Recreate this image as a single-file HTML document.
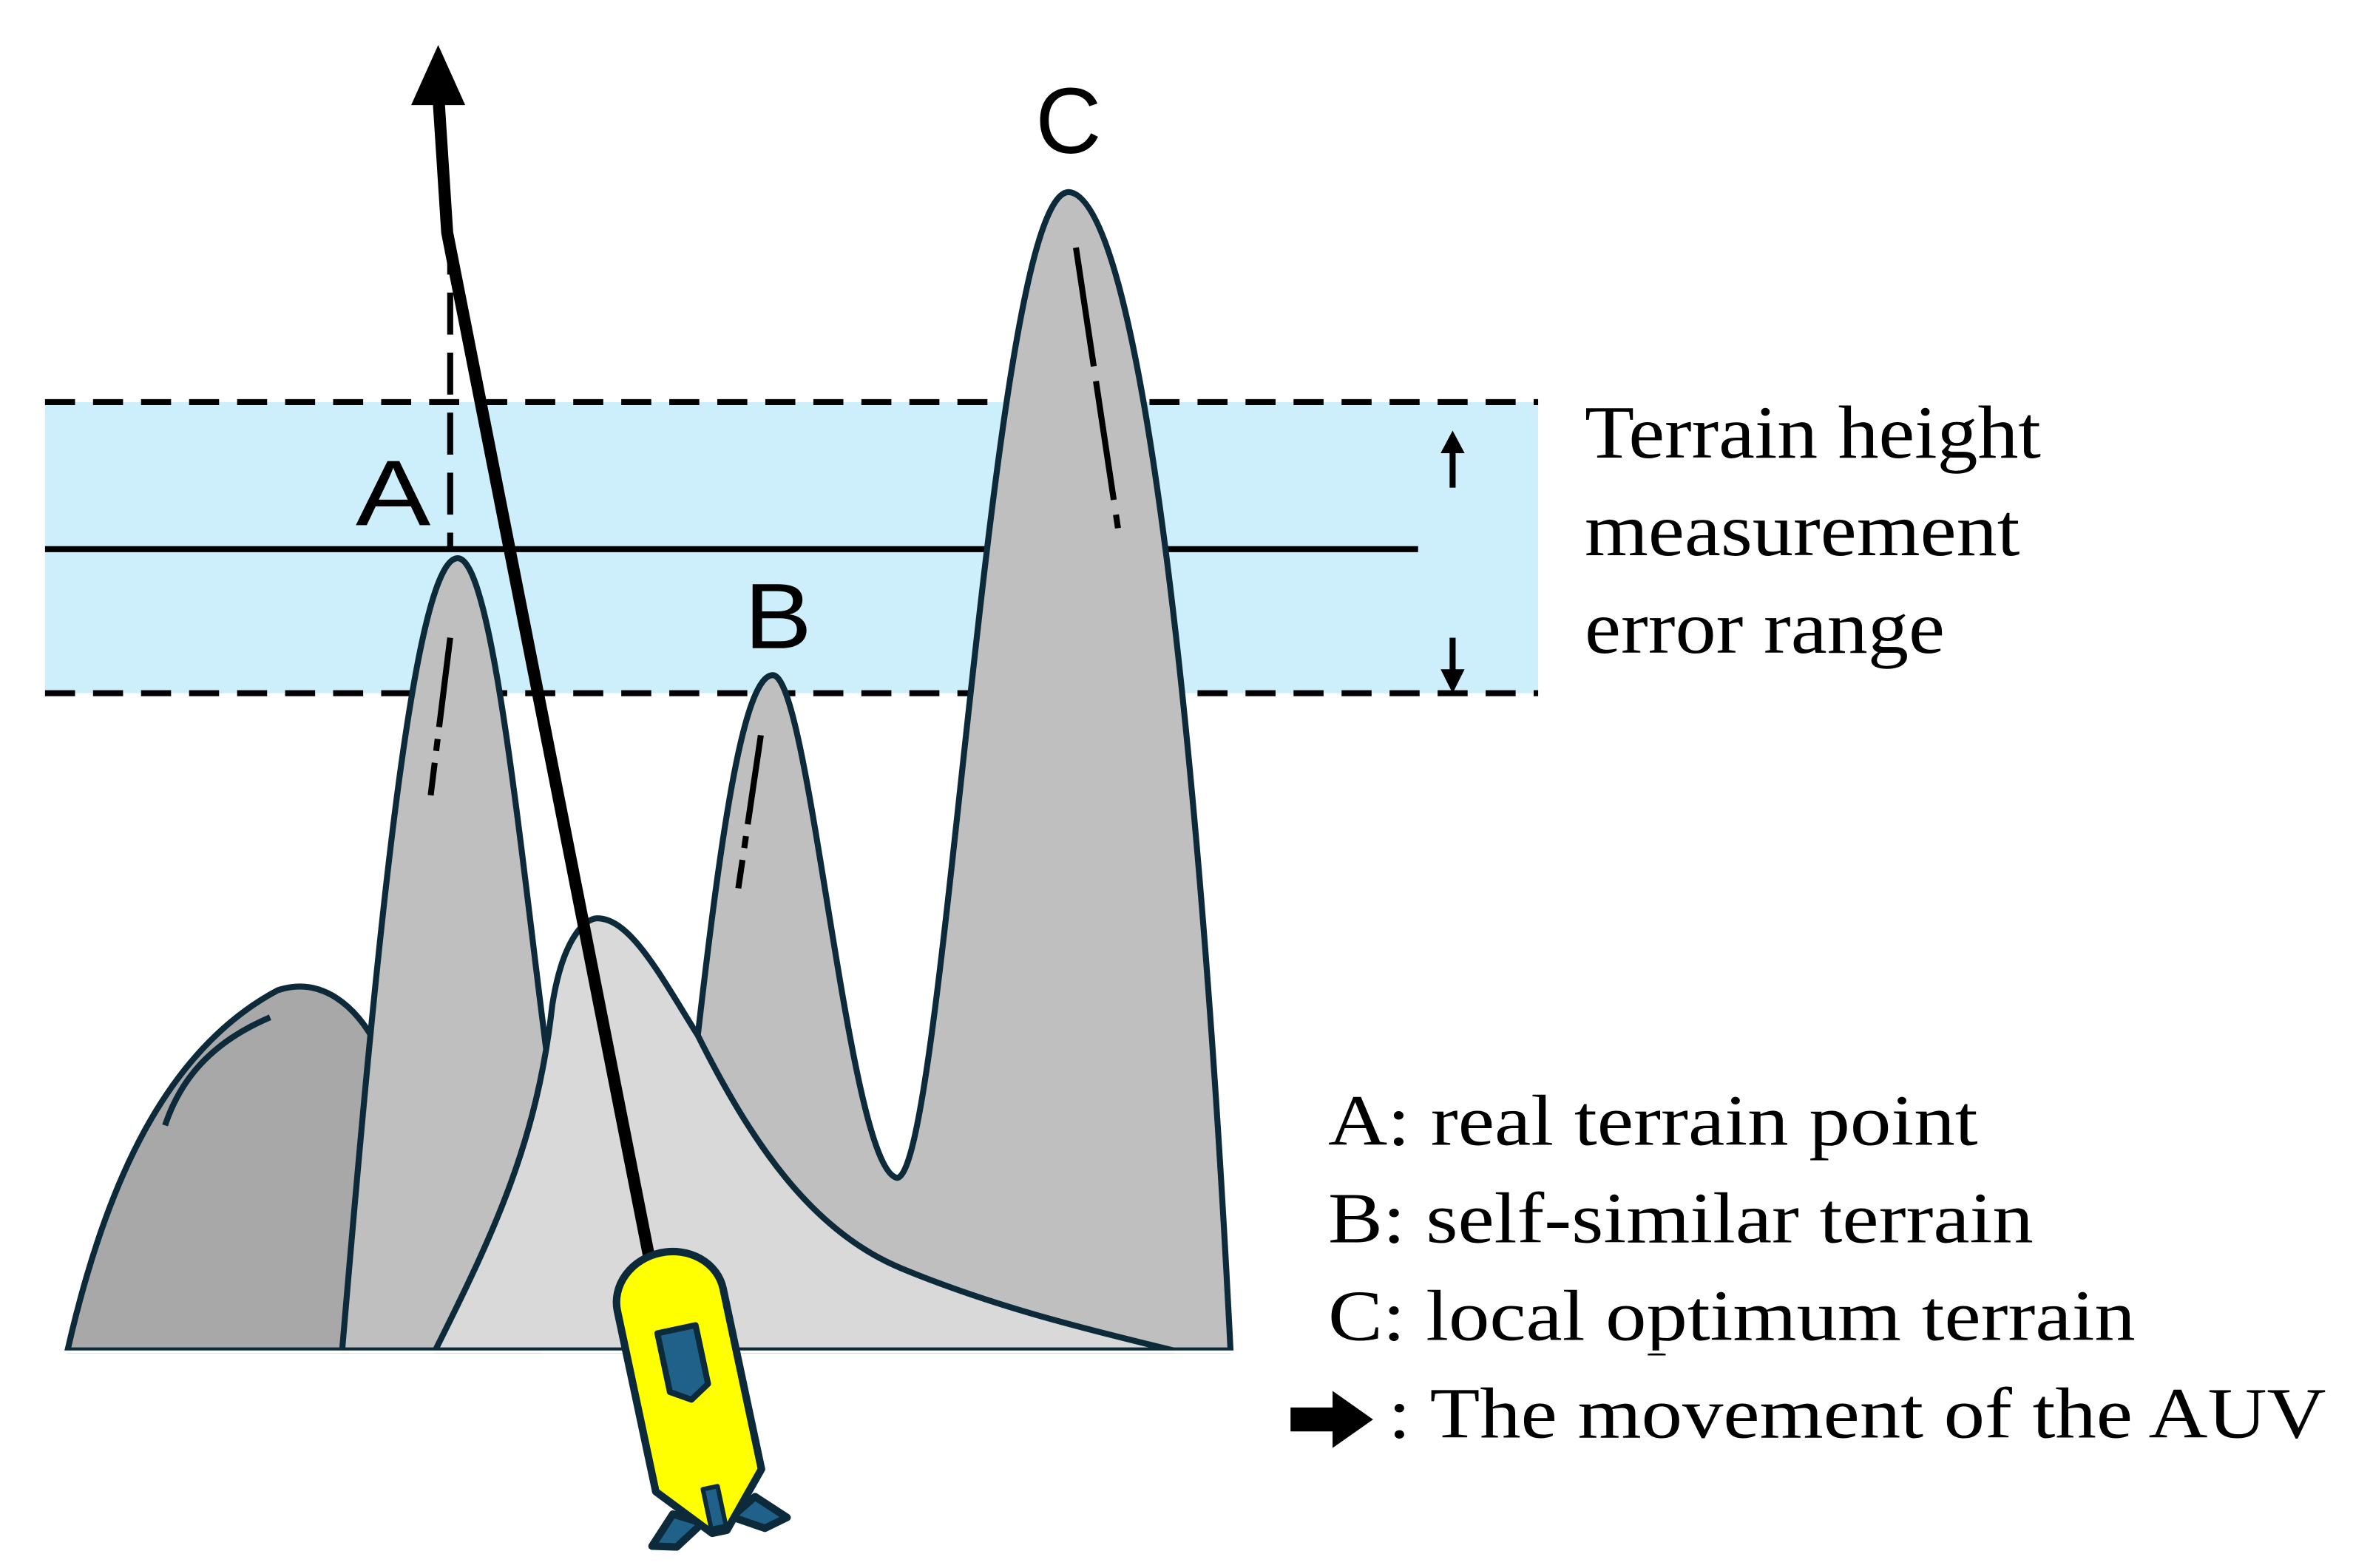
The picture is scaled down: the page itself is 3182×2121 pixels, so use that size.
<!DOCTYPE html>
<html><head><style>html,body{margin:0;padding:0;background:#fff}svg{display:block}</style></head>
<body>
<svg width="3182" height="2121" viewBox="0 0 1568 1045" preserveAspectRatio="none" xmlns="http://www.w3.org/2000/svg">
<rect x="0" y="0" width="1568" height="1045" fill="#fff"/>
<rect x="30" y="268" width="995" height="194" fill="#cdeefb"/>
<line x1="30" y1="268" x2="1025" y2="268" stroke="#000" stroke-width="4" stroke-dasharray="20,12"/>
<line x1="30" y1="462" x2="1025" y2="462" stroke="#000" stroke-width="4" stroke-dasharray="20,12"/>
<line x1="30" y1="366" x2="945" y2="366" stroke="#000" stroke-width="4"/>
<line x1="300" y1="155" x2="300" y2="366" stroke="#000" stroke-width="4" stroke-dasharray="28,12"/>
<line x1="968" y1="300" x2="968" y2="325" stroke="#000" stroke-width="4"/>
<polygon points="960,302 976,302 968,287" fill="#000"/>
<line x1="968" y1="425" x2="968" y2="450" stroke="#000" stroke-width="4"/>
<polygon points="960,446 976,446 968,462" fill="#000"/>
<g font-family="Liberation Serif, serif" fill="#000">
<text x="1056" y="305" font-size="50" textLength="304" lengthAdjust="spacingAndGlyphs">Terrain height</text>
<text x="1056" y="370" font-size="50" textLength="290" lengthAdjust="spacingAndGlyphs">measurement</text>
<text x="1056" y="435" font-size="50" textLength="240" lengthAdjust="spacingAndGlyphs">error range</text>
<text x="885" y="763" font-size="48" textLength="433" lengthAdjust="spacingAndGlyphs">A: real terrain point</text>
<text x="885" y="828" font-size="48" textLength="470" lengthAdjust="spacingAndGlyphs">B: self-similar terrain</text>
<text x="885" y="893" font-size="48" textLength="538" lengthAdjust="spacingAndGlyphs">C: local optimum terrain</text>
<text x="925" y="958" font-size="48" textLength="625" lengthAdjust="spacingAndGlyphs">: The movement of the AUV</text>
</g>
<g font-family="Liberation Sans, sans-serif" fill="#000" font-size="62">
<text x="237" y="350" textLength="50" lengthAdjust="spacingAndGlyphs">A</text>
<text x="496" y="432" textLength="45" lengthAdjust="spacingAndGlyphs">B</text>
<text x="690" y="102" textLength="44" lengthAdjust="spacingAndGlyphs">C</text>
</g>
<polygon points="860,938 888,938 888,927 915,946 888,965 888,954 860,954" fill="#000"/>
<g stroke="#0d2a3a" stroke-width="4" stroke-linejoin="round">
<path d="M45,900 C70,790 110,700 185,660 C215,650 238,672 250,695 L232,900 Z" fill="#a8a8a8"/>
<path d="M110,750 C120,720 140,695 180,678" fill="none"/>
<path d="M228,900 C250,640 275,372 305,372 C330,372 350,600 368,730 L360,900 Z" fill="#bfbfbf"/>
<path d="M460,900 L465,690 C480,560 495,450 515,450 C540,450 565,780 598,785 C630,780 660,130 712,128 C760,130 800,500 820,900 Z" fill="#bfbfbf"/>
<path d="M290,900 C330,820 358,760 368,670 C375,625 390,612 398,612 C420,612 440,650 465,690 C500,760 540,820 600,845 C660,870 720,885 782,900 Z" fill="#d9d9d9"/>
</g>
<line x1="0" y1="901" x2="1568" y2="901" stroke="#fff" stroke-width="2"/>
<line x1="300" y1="425" x2="287" y2="530" stroke="#000" stroke-width="4" stroke-dasharray="60,8,8,8"/>
<line x1="507" y1="490" x2="492" y2="592" stroke="#000" stroke-width="4" stroke-dasharray="60,8,8,8"/>
<line x1="717" y1="165" x2="745" y2="352" stroke="#000" stroke-width="4" stroke-dasharray="80,10"/>
<polyline points="433,840 298,155 292,62" fill="none" stroke="#000" stroke-width="8" stroke-linejoin="round"/>
<polygon points="292,30 274,70 310,70" fill="#000"/>
<g transform="translate(440,835) rotate(-12)" stroke="#0d2a3a" stroke-width="5" stroke-linejoin="round">
<path d="M-28,172 L-46,190 L-30,194 L-10,182 Z" fill="#1f6189"/>
<path d="M28,172 L46,190 L30,194 L10,182 Z" fill="#1f6189"/>
<path d="M-36,32 A36,32 0 0 1 36,32 L36,155 L5,190 L-5,190 L-36,155 Z" fill="#ffff00"/>
<path d="M-13,52 L13,52 L13,92 L0,100 L-13,92 Z" fill="#1f6189" stroke-width="4"/>
<rect x="-5" y="160" width="10" height="27" fill="#1f6189" stroke-width="3"/>
</g>
</svg>
</body></html>
